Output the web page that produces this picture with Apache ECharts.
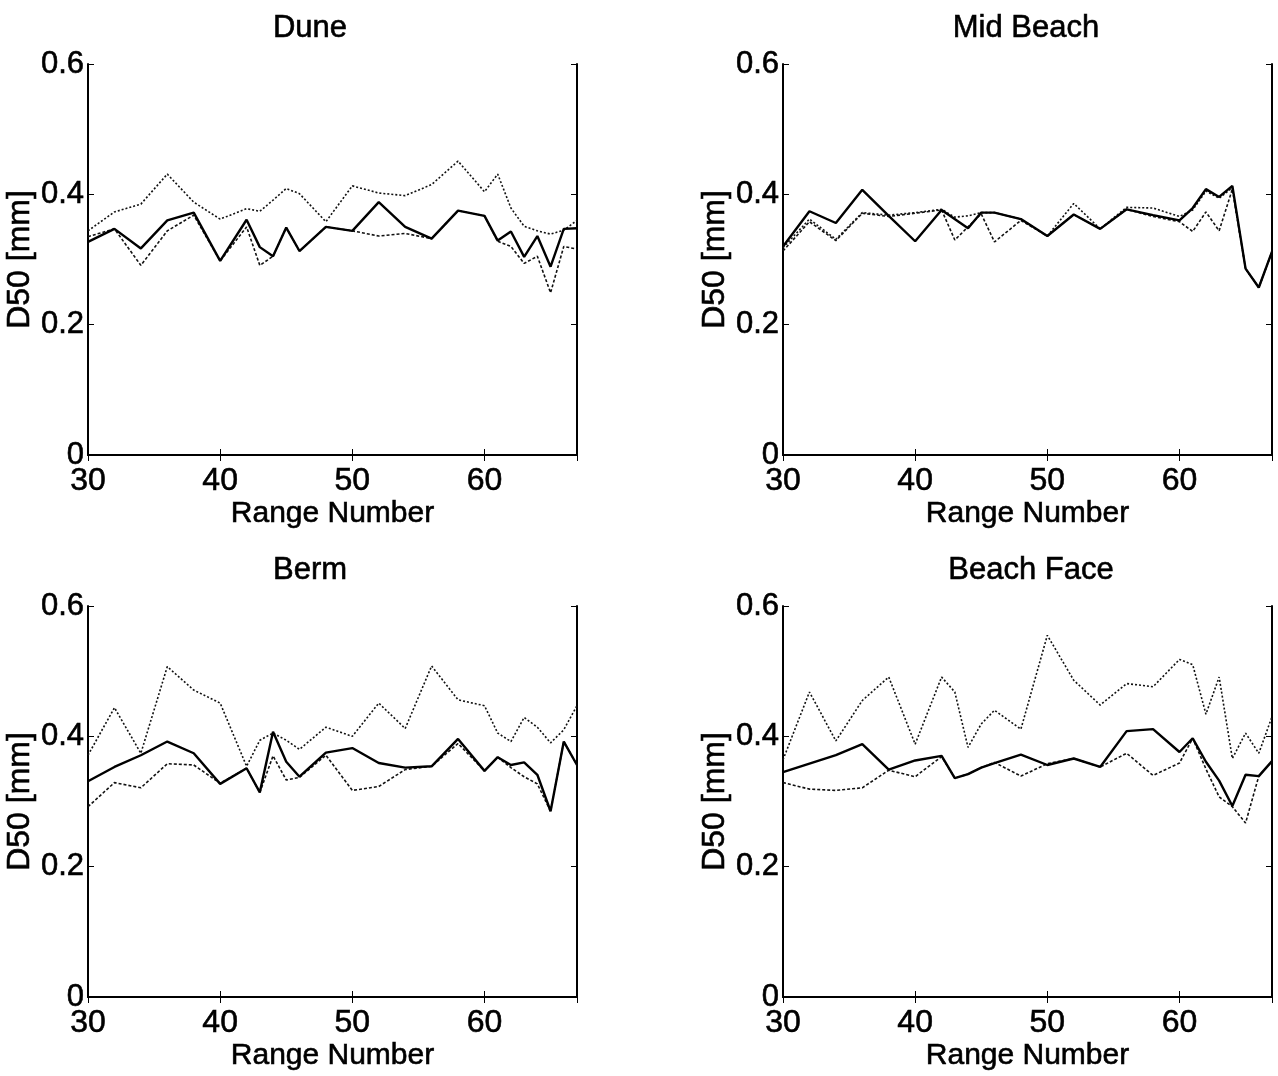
<!DOCTYPE html>
<html>
<head>
<meta charset="utf-8">
<script src="https://cdn.jsdelivr.net/npm/echarts@6/dist/echarts.min.js"></script>
<style>
html,body{margin:0;padding:0;background:#fff;}
#chart{width:1278px;height:1076px;}
</style>
</head>
<body>
<div id="chart"></div>
<script>
// Range numbers (shared x positions)
const rangeNumbers = [30,32,34,36,38,40,42,43,44,45,46,48,50,52,54,56,58,60,61,62,63,64,65,66,67];
const panelTitles = ['Dune','Mid Beach','Berm','Beach Face'];
const xTicks = [30,40,50,60];
const yTicks = [0,0.2,0.4,0.6];

// Dune
const duneSolid  = [0.327,0.347,0.317,0.360,0.372,0.298,0.361,0.319,0.305,0.349,0.313,0.350,0.344,0.388,0.350,0.332,0.375,0.367,0.329,0.343,0.304,0.336,0.289,0.347,0.348];
const duneUpper  = [0.344,0.373,0.385,0.431,0.388,0.362,0.378,0.374,0.391,0.409,0.401,0.358,0.413,0.402,0.398,0.415,0.451,0.404,0.431,0.379,0.351,0.344,0.339,0.345,0.360];
const duneLower  = [0.335,0.347,0.291,0.344,0.368,0.298,0.350,0.291,0.305,0.349,0.313,0.350,0.344,0.336,0.340,0.332,0.375,0.367,0.328,0.320,0.294,0.305,0.249,0.320,0.316];

// Mid Beach
const midSolid   = [0.320,0.374,0.356,0.407,0.367,0.328,0.376,null,0.348,0.372,0.372,0.362,0.336,0.369,0.347,0.377,0.368,0.360,0.379,0.408,0.396,0.413,0.286,0.257,0.312];
const midUpper   = [0.318,0.362,0.331,0.372,0.368,0.372,0.377,0.365,0.367,0.372,0.372,0.362,0.336,0.386,0.347,0.380,0.379,0.366,0.376,0.405,0.394,0.410,0.286,0.257,0.312];
const midLower   = [0.313,0.358,0.329,0.371,0.366,0.371,0.376,0.330,0.350,0.370,0.327,0.360,0.336,0.369,0.347,0.377,0.366,0.358,0.343,0.373,0.344,0.408,0.286,0.257,0.312];

// Berm
const bermSolid  = [0.331,0.353,0.371,0.392,0.374,0.327,0.351,0.314,0.407,0.361,0.338,0.375,0.382,0.359,0.352,0.354,0.396,0.347,0.368,0.356,0.360,0.341,0.285,0.392,0.356];
const bermUpper  = [0.371,0.444,0.374,0.507,0.471,0.451,0.354,0.394,0.405,0.394,0.380,0.414,0.400,0.451,0.412,0.508,0.456,0.447,0.405,0.392,0.429,0.414,0.390,0.410,0.447];
const bermLower  = [0.292,0.329,0.321,0.358,0.356,0.328,0.351,0.314,0.370,0.333,0.337,0.371,0.317,0.323,0.349,0.354,0.389,0.347,0.368,0.352,0.338,0.327,0.285,0.392,0.356];

// Beach Face
const faceSolid  = [0.345,0.358,0.371,0.388,0.349,0.363,0.370,0.336,0.342,0.352,0.359,0.372,0.356,0.366,0.353,0.408,0.411,0.376,0.397,0.361,0.332,0.293,0.341,0.339,0.362];
const faceUpper  = [0.364,0.468,0.393,0.455,0.491,0.388,0.491,0.468,0.383,0.419,0.440,0.411,0.555,0.486,0.448,0.481,0.476,0.518,0.510,0.434,0.491,0.366,0.405,0.374,0.430];
const faceLower  = [0.329,0.319,0.317,0.321,0.348,0.338,0.369,0.336,0.342,0.352,0.360,0.339,0.358,0.366,0.353,0.374,0.340,0.359,0.397,0.350,0.307,0.292,0.267,0.339,0.362];

const panels = [
  {solid: duneSolid, upper: duneUpper, lower: duneLower},
  {solid: midSolid,  upper: midUpper,  lower: midLower},
  {solid: bermSolid, upper: bermUpper, lower: bermLower},
  {solid: faceSolid, upper: faceUpper, lower: faceLower}
];

const FONT = '"Liberation Sans", Arial, sans-serif';
const layout = [
  {left: 88,  top: 64,  titleX: 305},
  {left: 783, top: 64,  titleX: 1021},
  {left: 88,  top: 606, titleX: 305},
  {left: 783, top: 606, titleX: 1026}
];
const W = 489, H = 391;

function pairs(vals){ return rangeNumbers.map((x,i)=>[x, vals[i]]); }
function txt(size){ return {fontFamily: FONT, fontSize: size, fontWeight: 'normal', color: '#000', textBorderColor: '#000', textBorderWidth: 0.6}; }

const option = {
  backgroundColor: '#fff',
  animation: false,
  title: [], grid: [], xAxis: [], yAxis: [], series: []
};

panels.forEach((p, i) => {
  const L = layout[i];
  option.title.push({
    text: panelTitles[i], left: L.titleX, top: L.top - 56, textAlign: 'center',
    textStyle: txt(31)
  });
  option.grid.push({left: L.left, top: L.top, width: W, height: H, containLabel: false});
  const axLine = {show: true, lineStyle: {color: '#000', width: 2}};
  const tick = {show: true, inside: true, length: 6, lineStyle: {color: '#000', width: 1}};
  // bottom x
  option.xAxis.push({
    type: 'value', gridIndex: i, min: 30, max: 67, interval: 10, position: 'bottom',
    name: 'Range Number', nameLocation: 'middle', nameGap: 39,
    nameTextStyle: txt(30),
    axisLine: axLine, axisTick: tick, splitLine: {show: false},
    axisLabel: Object.assign(txt(32), {margin: 10,
      formatter: v => xTicks.includes(v) ? String(v) : ''})
  });
  // top x (box)
  option.xAxis.push({
    type: 'value', gridIndex: i, min: 30, max: 67, interval: 10, position: 'top',
    axisLine: axLine, axisTick: tick, splitLine: {show: false}, axisLabel: {show: false}
  });
  // left y
  option.yAxis.push({
    type: 'value', gridIndex: i, min: 0, max: 0.6, interval: 0.2, position: 'left',
    name: 'D50 [mm]', nameLocation: 'middle', nameGap: 48, nameRotate: 90,
    nameTextStyle: txt(32),
    axisLine: axLine, axisTick: tick, splitLine: {show: false},
    axisLabel: Object.assign(txt(31), {margin: 4,
      formatter: v => { const t = yTicks.find(k => Math.abs(k - v) < 1e-9); return t === undefined ? '' : (t === 0 ? '0' : t.toFixed(1)); }})
  });
  // right y (box)
  option.yAxis.push({
    type: 'value', gridIndex: i, min: 0, max: 0.6, interval: 0.2, position: 'right',
    axisLine: axLine, axisTick: tick, splitLine: {show: false}, axisLabel: {show: false}
  });
  const xi = i*2, yi = i*2;
  const common = {type: 'line', xAxisIndex: xi, yAxisIndex: yi, showSymbol: false, symbol: 'none', connectNulls: true, silent: true};
  option.series.push(Object.assign({}, common, {data: pairs(p.upper), lineStyle: {color: '#111', width: 1.6, type: [2,2]}}));
  option.series.push(Object.assign({}, common, {data: pairs(p.lower), lineStyle: {color: '#111', width: 1.6, type: [3,2]}}));
  option.series.push(Object.assign({}, common, {data: pairs(p.solid), lineStyle: {color: '#000', width: 2.4, type: 'solid'}}));
});

const chart = echarts.init(document.getElementById('chart'), null, {renderer: 'canvas'});
chart.setOption(option);
</script>
</body>
</html>
